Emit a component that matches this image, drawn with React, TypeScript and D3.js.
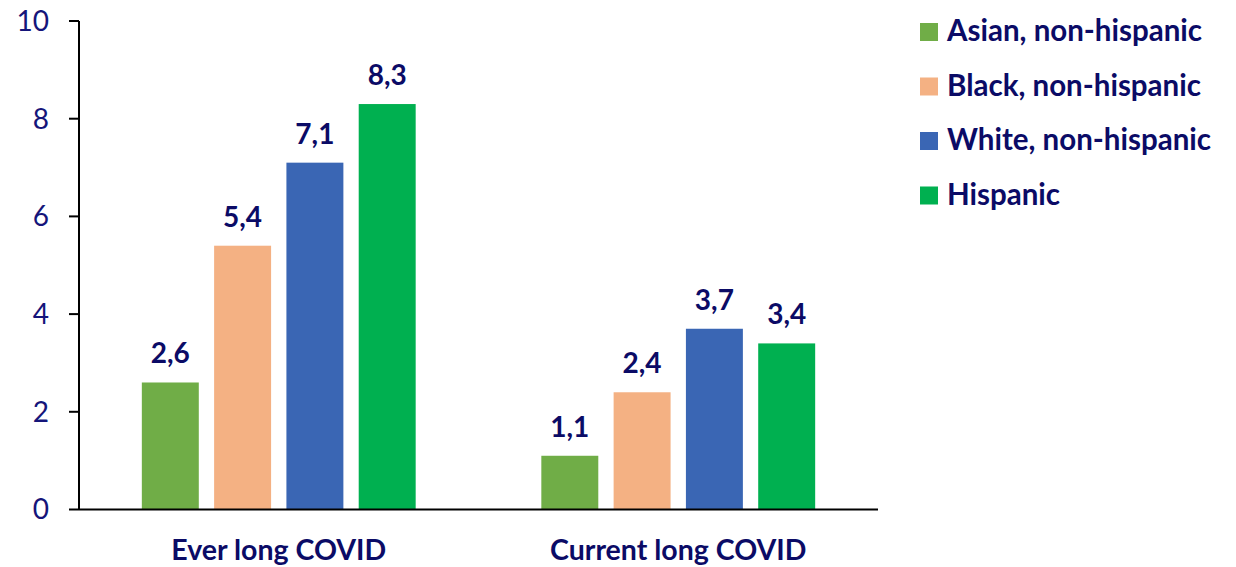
import React from "react";
import * as d3 from "d3";

const categories = ["Ever long COVID", "Current long COVID"];
const seriesNames = [
  "Asian, non-hispanic",
  "Black, non-hispanic",
  "White, non-hispanic",
  "Hispanic",
];
const seriesColors = ["#70AD47", "#F4B183", "#3A66B4", "#00B050"];
// values[seriesIndex][categoryIndex]
const asianValues = [2.6, 1.1];
const blackValues = [5.4, 2.4];
const whiteValues = [7.1, 3.7];
const hispanicValues = [8.3, 3.4];
const seriesValues = [asianValues, blackValues, whiteValues, hispanicValues];
const yTicks = [0, 2, 4, 6, 8, 10];

const W = 1236;
const H = 567;
const plot = { left: 79, right: 878, top: 21, bottom: 509.5 };
const FONT = "Lato, 'Open Sans', sans-serif";
const NAVY = "#0B0B66";
const TICK_NAVY = "#15157A";

export default function App() {
  const y = d3.scaleLinear().domain([0, 10]).range([plot.bottom, plot.top]);
  const x0 = d3
    .scaleBand<string>()
    .domain(categories)
    .range([plot.left, plot.right])
    .padding(0);
  const x1 = d3
    .scaleBand<string>()
    .domain(seriesNames)
    .range([0, x0.bandwidth()])
    .paddingInner(0.212)
    .paddingOuter(0.869);

  const fmt = (v: number) => v.toFixed(1).replace(".", ",");

  return (
    <svg
      width={W}
      height={H}
      style={{ position: "absolute", left: 0, top: 0, background: "#fff" }}
      fontFamily={FONT}
    >
      {/* bars and value labels */}
      {categories.map((cat, ci) => (
        <g key={cat} transform={`translate(${x0(cat)},0)`}>
          {seriesNames.map((s, si) => {
            const v = seriesValues[si][ci];
            const bx = x1(s)!;
            const bw = x1.bandwidth();
            return (
              <g key={s}>
                <rect
                  x={bx}
                  y={y(v)}
                  width={bw}
                  height={y(0) - y(v)}
                  fill={seriesColors[si]}
                />
                <text
                  x={bx + bw / 2}
                  y={y(v) - 19}
                  textAnchor="middle"
                  fontSize={28}
                  fontWeight={700}
                  fill={NAVY}
                >
                  {fmt(v)}
                </text>
              </g>
            );
          })}
          <text
            x={x0.bandwidth() / 2}
            y={560}
            textAnchor="middle"
            fontSize={28.5}
            fontWeight={700}
            fill={NAVY}
          >
            {cat}
          </text>
        </g>
      ))}

      {/* y axis */}
      <line
        x1={plot.left}
        x2={plot.left}
        y1={plot.top}
        y2={plot.bottom}
        stroke="#000"
        strokeWidth={2}
      />
      {yTicks.map((t) => (
        <g key={t} transform={`translate(0,${y(t)})`}>
          <line x1={69} x2={plot.left} stroke="#000" strokeWidth={2} />
          <text
            x={49}
            dy="0.35em"
            textAnchor="end"
            fontSize={28}
            fill={TICK_NAVY}
          >
            {t}
          </text>
        </g>
      ))}

      {/* x axis */}
      <line
        x1={plot.left}
        x2={plot.right}
        y1={plot.bottom}
        y2={plot.bottom}
        stroke="#000"
        strokeWidth={2}
      />

      {/* legend */}
      {seriesNames.map((s, i) => (
        <g key={s} transform={`translate(920,${23 + i * 54.5})`}>
          <rect width={18} height={18} fill={seriesColors[i]} />
          <text x={27} y={18} fontSize={29.5} fontWeight={700} fill={NAVY}>
            {s}
          </text>
        </g>
      ))}
    </svg>
  );
}
